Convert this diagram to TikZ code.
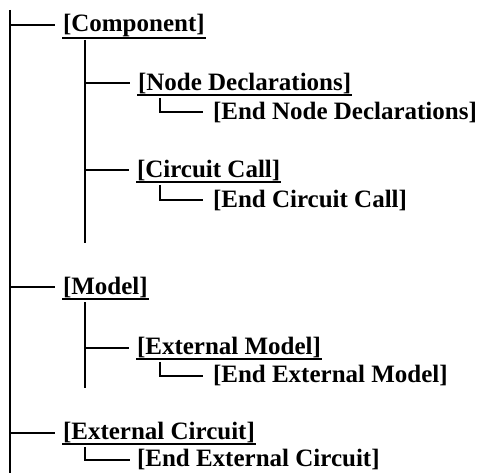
\documentclass[tikz,border=0pt]{standalone}
\usepackage{fontspec}
\setmainfont{Liberation Serif}
\begin{document}
\begin{tikzpicture}[x=1pt,y=-1pt,line width=2pt]
\tikzstyle{every node}=[inner sep=0pt, anchor=base west, font=\fontsize{25}{30}\selectfont\bfseries]
\tikzstyle{uline}=[line width=2.4pt]
\useasboundingbox (0,0) rectangle (482,473);

\coordinate (r0) at (10,10);
\coordinate (r1) at (10,473);
\coordinate (sa0) at (85,40);
\coordinate (sa1) at (85,243);
\coordinate (sb0) at (85,302);
\coordinate (sb1) at (85,388);

\node (comp)  at ( 62, 31.5) {[Component]};
\node (nd)    at (137, 90.5) {[Node Declarations]};
\node (endnd) at (212,119.5) {[End Node Declarations]};
\node (cc)    at (136,177.5) {[Circuit Call]};
\node (endcc) at (212,207.5) {[End Circuit Call]};
\node (mod)   at ( 62,294.5) {[Model]};
\node (em)    at (136,354.5) {[External Model]};
\node (endem) at (212,382.5) {[End External Model]};
\node (ec)    at ( 62,439.5) {[External Circuit]};
\node (endec) at (136,466.5) {[End External Circuit]};

% underlines
\draw[uline] (comp.south west) -- (comp.south east);
\draw[uline] (nd.south west) -- (nd.south east);
\draw[uline] (cc.south west) -- (cc.south east);
\draw[uline] (mod.south west) -- (mod.south east);
\draw[uline] (em.south west) -- (em.south east);
\draw[uline] (ec.south west) -- (ec.south east);

% tree
\draw (r0) -- (r1);
\draw (r0 |- comp.west) -- ([xshift=-7pt]comp.west);
\draw (r0 |- mod.west) -- ([xshift=-7pt]mod.west);
\draw (r0 |- ec.west) -- ([xshift=-7pt]ec.west);
\draw (sa0) -- (sa1);
\draw (sa0 |- nd.west) -- ([xshift=-7pt]nd.west);
\draw (sa0 |- cc.west) -- ([xshift=-7pt]cc.west);
\draw (sb0) -- (sb1);
\draw (sb0 |- em.west) -- ([xshift=-7pt]em.west);
\draw ([xshift=23pt,yshift=-3pt]nd.south west) |- ([xshift=-9pt]endnd.west);
\draw ([xshift=24pt,yshift=-3pt]cc.south west) |- ([xshift=-9pt]endcc.west);
\draw ([xshift=24pt,yshift=-3pt]em.south west) |- ([xshift=-9pt]endem.west);
\draw ([xshift=23pt,yshift=-3pt]ec.south west) |- ([xshift=-6pt]endec.west);
\end{tikzpicture}
\end{document}
